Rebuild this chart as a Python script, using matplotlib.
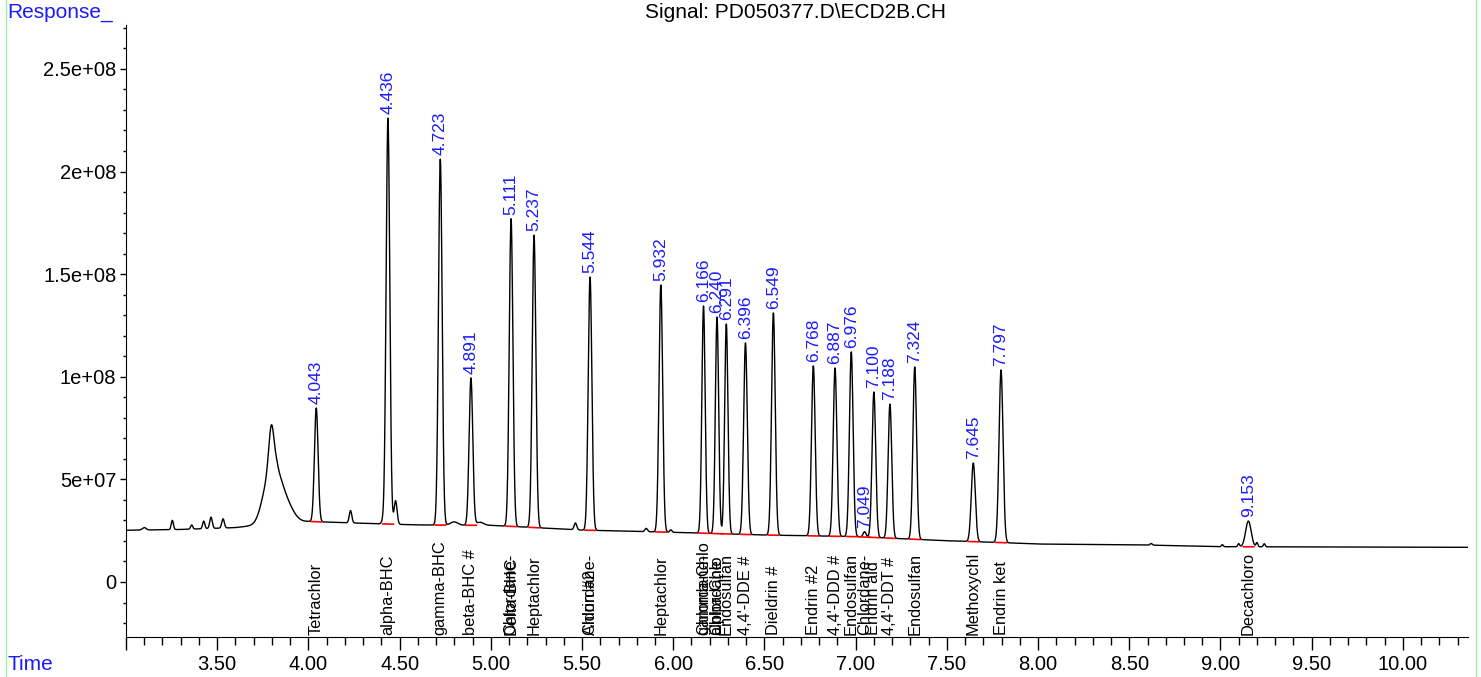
import matplotlib
matplotlib.use("Agg")
import matplotlib.pyplot as plt
import numpy as np
from matplotlib.ticker import MultipleLocator, FuncFormatter

plt.rcParams['font.family'] = ['Liberation Sans', 'DejaVu Sans']

# Tabela de picos (tempo de retenção, altura do ápice, largura, composto)
peak_rt = [4.043, 4.436, 4.723, 4.891, 5.111, 5.237, 5.544, 5.932, 6.166, 6.240,
           6.291, 6.396, 6.549, 6.768, 6.887, 6.976, 7.049, 7.100, 7.188, 7.324,
           7.645, 7.797, 9.153]
peak_apex = [8.48e7, 2.26e8, 2.06e8, 9.94e7, 1.77e8, 1.69e8, 1.486e8, 1.447e8, 1.345e8, 1.291e8,
             1.257e8, 1.165e8, 1.311e8, 1.053e8, 1.043e8, 1.121e8, 2.45e7, 9.26e7, 8.67e7, 1.048e8,
             5.8e7, 1.033e8, 2.97e7]
peak_sigma = [0.010, 0.010, 0.010, 0.010, 0.010, 0.010, 0.010, 0.010, 0.009, 0.009,
              0.009, 0.010, 0.010, 0.010, 0.010, 0.010, 0.008, 0.010, 0.010, 0.010,
              0.011, 0.011, 0.015]
peak_name = ['Tetrachlor', 'alpha-BHC', 'gamma-BHC', 'beta-BHC #', 'Delta-BHC', 'Heptachlor',
             'Aldrin #2', 'Heptachlor', 'gamma-Chlo', 'alpha-Chlo', 'Endosulfan', "4,4'-DDE #",
             'Dieldrin #', 'Endrin #2', "4,4'-DDD #", 'Endosulfan', 'Chlordane-', 'Endrin ald',
             "4,4'-DDT #", 'Endosulfan', 'Methoxychl', 'Endrin ket', 'Decachloro']

# rótulos sobrepostos (mesmo tempo)
extra_rt = [5.111, 5.544, 6.166, 6.240]
extra_name = ['Chlordane-', 'Chlordane-', 'Chlordane-', 'Chlordane']

# picos pequenos não identificados (tempo, altura acima da linha de base, largura)
minor_rt = [3.10, 3.254, 3.36, 3.426, 3.466, 3.532, 3.760, 3.797, 3.810, 3.826, 3.880,
            4.231, 4.41, 4.478, 4.799, 4.94, 5.464, 5.852, 5.987, 8.62, 9.01, 9.10, 9.20, 9.24]
minor_h = [0.12e7, 0.45e7, 0.2e7, 0.37e7, 0.55e7, 0.45e7, 0.6e7, 2.0e7, 2.6e7, 0.15e7, 0.8e7,
           0.6e7, 0.15e7, 1.15e7, 0.16e7, 0.15e7, 0.33e7, 0.16e7, 0.12e7, 0.08e7, 0.1e7, 0.15e7,
           0.2e7, 0.15e7]
minor_sigma = [0.01, 0.006, 0.006, 0.006, 0.007, 0.007, 0.03, 0.014, 0.04, 0.008, 0.04,
               0.007, 0.008, 0.008, 0.02, 0.02, 0.007, 0.007, 0.006, 0.006, 0.005, 0.005,
               0.005, 0.005]

# linha de base (pontos lidos)
base_t = [3.0, 3.3, 3.6, 3.7, 4.0, 4.3, 4.6, 5.0, 5.2, 5.5, 6.0, 6.5, 7.0, 7.5, 7.8, 8.0,
          8.6, 9.0, 10.36]
base_v = [2.52e7, 2.56e7, 2.65e7, 2.75e7, 2.95e7, 2.86e7, 2.78e7, 2.76e7, 2.67e7, 2.53e7,
          2.42e7, 2.29e7, 2.21e7, 2.01e7, 1.92e7, 1.85e7, 1.80e7, 1.72e7, 1.69e7]

t = np.arange(3.0, 10.36, 0.001)
baseline = np.interp(t, base_t, base_v)
signal = baseline.copy()
for rt, apex, s in zip(peak_rt, peak_apex, peak_sigma):
    h = apex - np.interp(rt, base_t, base_v)
    signal += h * np.exp(-0.5 * ((t - rt) / s) ** 2)
for rt, h, s in zip(minor_rt, minor_h, minor_sigma):
    signal += h * np.exp(-0.5 * ((t - rt) / s) ** 2)

fig = plt.figure(figsize=(14.81, 6.77), dpi=100)
ax = fig.add_axes([126 / 1481, 1 - 637 / 677, (1468 - 126) / 1481, (637 - 25) / 677])

ax.plot(t, signal, color='black', linewidth=1.0)

# linhas de integração
for rt in peak_rt:
    x0, x1 = rt - 0.028, rt + 0.03
    ax.plot([x0, x1], np.interp([x0, x1], base_t, base_v), color='red', linewidth=1.2)

# tempos de retenção (azul)
for rt, apex in zip(peak_rt, peak_apex):
    ax.annotate(f'{rt:.3f}', (rt, apex), xytext=(0, 3), textcoords='offset points',
                rotation=90, ha='center', va='bottom', color='#1a1aff', fontsize=12.5)

# nomes dos compostos
for rt, name in zip(peak_rt + extra_rt, peak_name + extra_name):
    ax.text(rt, 0.003, name, transform=ax.get_xaxis_transform(), rotation=90,
            ha='center', va='bottom', fontsize=11.8, color='black')

ax.set_xlim(3.0, 10.357)
ax.set_ylim(-2.68e7, 2.714e8)
ax.xaxis.set_major_locator(MultipleLocator(0.5))
ax.xaxis.set_minor_locator(MultipleLocator(0.1))
ax.yaxis.set_major_locator(MultipleLocator(5e7))
ax.yaxis.set_minor_locator(MultipleLocator(1e7))

def fmt_x(v, pos):
    return '' if abs(v - 3.0) < 1e-6 else f'{v:.2f}'

def fmt_y(v, pos):
    if v == 0:
        return '0'
    m, e = f'{v:.1e}'.split('e')
    m = m.rstrip('0').rstrip('.')
    return f'{m}e+{int(e):02d}'

ax.xaxis.set_major_formatter(FuncFormatter(fmt_x))
ax.yaxis.set_major_formatter(FuncFormatter(fmt_y))
ax.tick_params(axis='x', which='major', direction='out', length=9, width=1, labelsize=14.5, pad=4)
ax.tick_params(axis='x', which='minor', direction='out', length=6, width=1)
ax.tick_params(axis='y', which='major', direction='out', length=4, width=1, labelsize=14.5, pad=3)
ax.tick_params(axis='y', which='minor', direction='out', length=2, width=1)
for side in ['top', 'right']:
    ax.spines[side].set_visible(False)

fig.text(795 / 1481, 1 - 12 / 677, 'Signal: PD050377.D\\ECD2B.CH', ha='center', va='center', fontsize=15)
fig.text(7 / 1481, 1 - 12 / 677, 'Response_', ha='left', va='center', fontsize=15, color='#1a1aff')
fig.text(7 / 1481, 1 - 665 / 677, 'Time', ha='left', va='center', fontsize=15, color='#1a1aff')

# bordas verdes
for xp in [6, 1476]:
    fig.add_artist(plt.Line2D([xp / 1481, xp / 1481], [0, 1], color='#a0f0a0', linewidth=1))

fig.savefig('out.png', dpi=100)
